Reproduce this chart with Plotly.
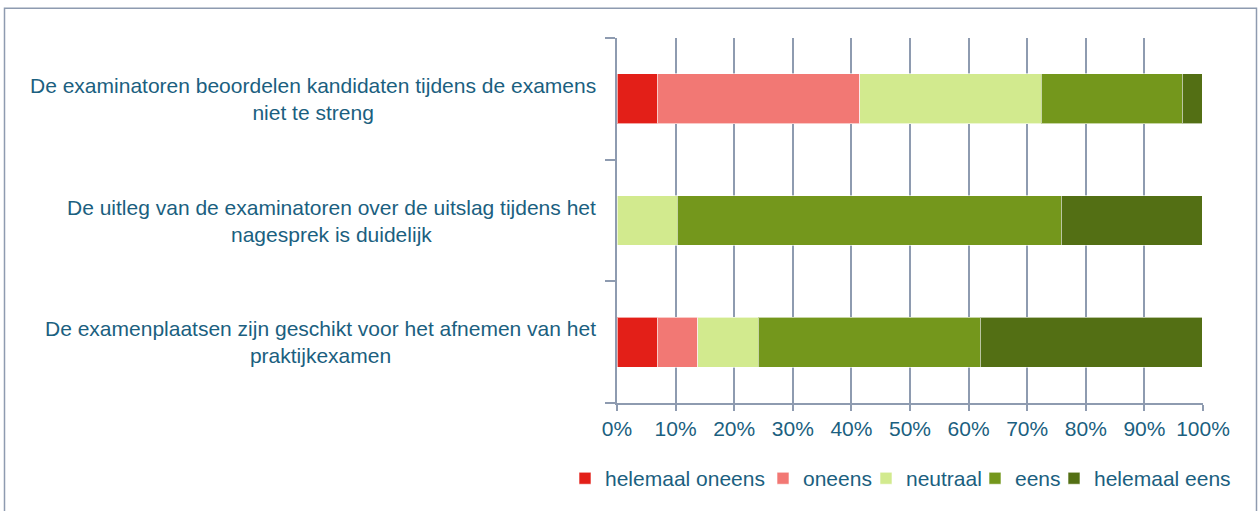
import plotly.graph_objects as go

# Survey statements (top to bottom) and answer shares in percent
statements = [
    "De examinatoren beoordelen kandidaten tijdens de examens<br>niet te streng",
    "De uitleg van de examinatoren over de uitslag tijdens het<br>nagesprek is duidelijk",
    "De examenplaatsen zijn geschikt voor het afnemen van het<br>praktijkexamen",
]
answer_labels = ["helemaal oneens", "oneens", "neutraal", "eens", "helemaal eens"]
helemaal_oneens = [6.9, 0.0, 6.9]
oneens = [34.5, 0.0, 6.9]
neutraal = [31.0, 10.3, 10.3]
eens = [24.1, 65.5, 37.9]
helemaal_eens = [3.4, 24.1, 37.9]
x_ticks = [0, 10, 20, 30, 40, 50, 60, 70, 80, 90, 100]

series = [helemaal_oneens, oneens, neutraal, eens, helemaal_eens]
colors = ["#E31F18", "#F27874", "#D2EA8E", "#74971C", "#536F14"]
# horizontal room reserved for each legend entry's text
legend_widths = [153, 58, 64, 34, 137]

TEXT = "#1B5F80"
GRID = "#8E9BB0"
FONT = "Liberation Sans, Arial, sans-serif"
FS = 21

cat_ids = ["s1", "s2", "s3"]

fig = go.Figure()
for name, vals, col, lw in zip(answer_labels, series, colors, legend_widths):
    fig.add_trace(go.Bar(
        y=cat_ids, x=vals, name=name, orientation="h",
        marker=dict(color=col, line=dict(color="rgba(255,255,255,0.6)", width=1)),
        width=0.41, legendwidth=lw,
    ))

W, H = 1260, 511
L, R, T, B = 617, 57, 38, 106
pw, ph = W - L - R, H - T - B


def px(xp):
    return (xp - L) / pw


def py(yp):
    return (405 - yp) / ph


fig.update_layout(
    width=W, height=H,
    margin=dict(l=L, r=R, t=T, b=B),
    barmode="stack",
    paper_bgcolor="white", plot_bgcolor="white",
    font=dict(family=FONT, size=FS, color=TEXT),
    showlegend=True,
    legend=dict(
        orientation="h", xref="paper", x=px(565), xanchor="left",
        yref="paper", y=py(481), yanchor="middle",
        font=dict(size=FS, color=TEXT),
        itemwidth=30, tracegroupgap=0,
        traceorder="normal", bgcolor="rgba(0,0,0,0)",
    ),
    xaxis=dict(
        range=[0, 100], tickvals=x_ticks,
        ticktext=[f"{v}%" for v in x_ticks],
        showgrid=True, gridcolor=GRID, gridwidth=1.5,
        showline=True, linecolor=GRID, linewidth=1.5,
        ticks="outside", ticklen=6, tickcolor=GRID, tickwidth=1.5,
        zeroline=False, tickfont=dict(size=FS, color=TEXT),
        fixedrange=True,
    ),
    yaxis=dict(
        categoryorder="array", categoryarray=cat_ids[::-1],
        tickson="boundaries", ticks="outside", ticklen=10,
        tickcolor=GRID, tickwidth=1.5,
        showticklabels=False, showgrid=False,
        showline=True, linecolor=GRID, linewidth=1.5,
        fixedrange=True,
    ),
)

# Centered, wrapped statement labels to the left of the bars
for cid, text in zip(cat_ids, statements):
    fig.add_annotation(
        x=px(598), xref="paper", xanchor="right",
        y=cid, yref="y", yanchor="middle",
        text=text, align="center", showarrow=False,
        font=dict(size=FS, color=TEXT, family=FONT),
    )

# Chart frame: left, top and right edges
fig.add_shape(
    type="path", xref="paper", yref="paper",
    path=(f"M {px(4.5)} {py(530)} L {px(4.5)} {py(8)} "
          f"L {px(1256.5)} {py(8)} L {px(1256.5)} {py(530)}"),
    line=dict(color="#8E9BB0", width=1.5),
    layer="below",
)

fig.write_html("out.html")
